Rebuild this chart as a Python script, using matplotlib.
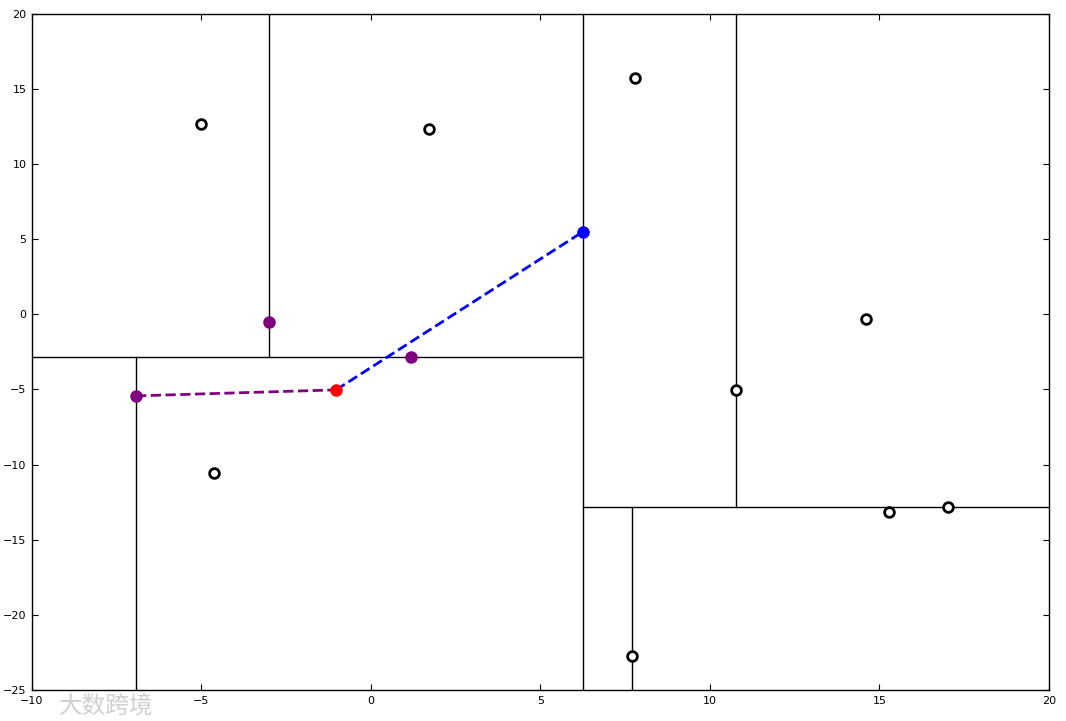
import matplotlib
matplotlib.use('Agg')
import matplotlib.pyplot as plt

# plain data points (hollow circles)
px = [-5.0, 1.71, 7.79, 14.6, 10.77, 15.28, 17.02, -4.63, 7.70]
py = [12.68, 12.34, 15.74, -0.31, -5.03, -13.16, -12.82, -10.56, -22.74]

# visited nodes (purple), query point (red), nearest (blue)
vis_x = [-3.01, 1.18, -6.93]
vis_y = [-0.51, -2.84, -5.43]
query = (-1.03, -5.03)
best = (6.25, 5.49)
second = (-6.93, -5.43)

# kd-tree splits: (x0, x1, y0, y1)
splits = [
    (6.25, 6.25, -25, 20),
    (-10, 6.25, -2.84, -2.84),
    (-3.01, -3.01, -2.84, 20),
    (-6.93, -6.93, -25, -2.84),
    (6.25, 20, -12.82, -12.82),
    (10.77, 10.77, -12.82, 20),
    (7.70, 7.70, -25, -12.82),
]

fig = plt.figure(figsize=(10.66, 7.21), dpi=100)
ax = fig.add_axes([0.030, 0.043, 0.954, 0.938])

for x0, x1, y0, y1 in splits:
    ax.plot([x0, x1], [y0, y1], color='black', lw=1.0, zorder=1)

ax.plot([second[0], query[0]], [second[1], query[1]], '--', color='purple', lw=2, zorder=2)
ax.plot([query[0], best[0]], [query[1], best[1]], '--', color='blue', lw=2, zorder=2)

ax.plot(px, py, 'o', mfc='white', mec='black', mew=2, ms=7, zorder=3)
ax.plot(vis_x, vis_y, 'o', color='purple', ms=8, zorder=3)
ax.plot([query[0]], [query[1]], 'o', color='red', ms=8, zorder=3)
ax.plot([best[0]], [best[1]], 'o', color='blue', ms=8, zorder=3)

ax.set_xlim(-10, 20)
ax.set_ylim(-25, 20)
ax.set_xticks(range(-10, 21, 5))
ax.set_yticks(range(-25, 21, 5))
ax.tick_params(direction='in', top=True, right=True, length=4, labelsize=8, pad=4)
for s in ax.spines.values():
    s.set_linewidth(1.0)

fig.text(0.055, 0.012, '大数跨境', family=['Noto Sans CJK SC', 'DejaVu Sans'],
         fontsize=17, color='#bbbbbb', alpha=0.7)

fig.savefig('out.png', dpi=100)
